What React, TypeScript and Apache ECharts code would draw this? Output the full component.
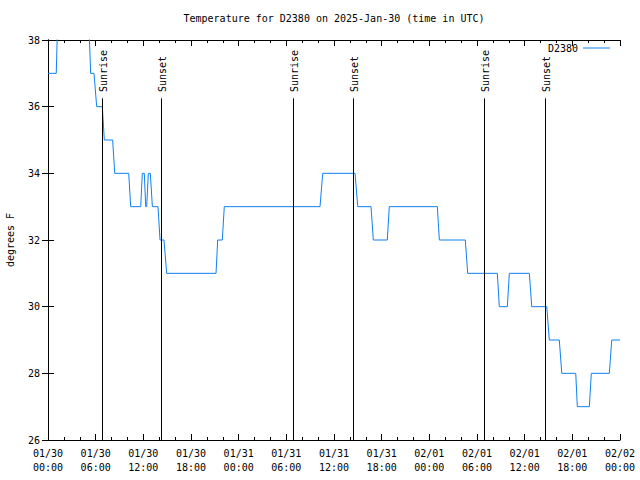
import { useEffect, useRef } from "react";
import * as echarts from "echarts";

// hours since 2025-01-30 00:00 UTC
const hours = [
  0, 1.04, 1.26, 5.07, 5.37, 5.79, 6.13, 6.84, 7.09, 8.14, 8.4, 10.16, 10.41,
  11.67, 11.87, 12.12, 12.3, 12.42, 12.63, 12.88, 13.14, 13.85, 14.1, 14.6,
  14.94, 21.15, 21.36, 21.94, 22.19, 34.24, 34.58, 38.65, 38.99, 40.66, 40.95,
  42.71, 42.96, 49.01, 49.26, 52.53, 52.83, 56.56, 56.81, 57.82, 58.07, 60.59,
  60.89, 62.78, 63.1, 64.36, 64.67, 66.43, 66.63, 68.14, 68.39, 70.66, 70.96, 72,
];
const temps = [
  37, 37, 39, 39, 37, 37, 36, 36, 35, 35, 34, 34, 33,
  33, 34, 34, 33, 33, 34, 34, 33, 33, 32, 32,
  31, 31, 32, 32, 33, 33, 34, 34, 33, 33, 32,
  32, 33, 33, 32, 32, 31, 31, 30, 30, 31, 31,
  30, 30, 29, 29, 28, 28, 27, 27, 28, 28, 29, 29,
];
const xTickLabels = [
  "01/30\n00:00", "01/30\n06:00", "01/30\n12:00", "01/30\n18:00",
  "01/31\n00:00", "01/31\n06:00", "01/31\n12:00", "01/31\n18:00",
  "02/01\n00:00", "02/01\n06:00", "02/01\n12:00", "02/01\n18:00",
  "02/02\n00:00",
];
const eventHours = [6.84, 14.26, 30.88, 38.43, 54.92, 62.6];
const eventNames = ["Sunrise", "Sunset", "Sunrise", "Sunset", "Sunrise", "Sunset"];
const seriesName = "D2380";
const titleText = "Temperature for D2380 on 2025-Jan-30 (time in UTC)";
const yName = "degrees F";

export default function App() {
  const ref = useRef<HTMLDivElement>(null);
  useEffect(() => {
    const chart = echarts.init(ref.current!, null, { renderer: "svg" });
    const font = "DejaVu Sans Mono";
    const txt = { fontFamily: font, fontSize: 10, color: "#000" };
    const lineStyle = { color: "#000", width: 1 };
    const xBase = {
      type: "value",
      min: 0,
      max: 72,
      interval: 6,
      splitLine: { show: false },
      axisLine: { show: true, lineStyle },
      axisTick: { show: true, inside: true, length: 6, lineStyle },
      minorTick: { show: true, splitNumber: 3, length: 3, lineStyle },
    };
    const yBase = {
      type: "value",
      min: 26,
      max: 38,
      interval: 2,
      splitLine: { show: false },
      axisLine: { show: true, lineStyle },
      axisTick: { show: true, inside: true, length: 6, lineStyle },
    };
    chart.setOption({
      animation: false,
      backgroundColor: "#fff",
      title: {
        text: titleText,
        left: 334,
        textAlign: "center",
        top: 13,
        padding: 0,
        textStyle: { ...txt, fontWeight: "normal" },
      },
      legend: {
        right: 30,
        top: 43,
        padding: 0,
        align: "right",
        icon: "rect",
        itemWidth: 27,
        itemHeight: 1,
        textStyle: txt,
        data: [seriesName],
      },
      grid: {
        left: 48,
        right: 20,
        top: 40,
        bottom: 40,
        containLabel: false,
        outerBoundsMode: "none",
      },
      xAxis: [
        {
          ...xBase,
          position: "bottom",
          axisLabel: {
            ...txt,
            margin: 6,
            lineHeight: 14,
            formatter: (v: number) => xTickLabels[Math.round(v / 6)] ?? "",
          },
        },
        { ...xBase, position: "top", axisLabel: { show: false } },
      ],
      yAxis: [
        {
          ...yBase,
          position: "left",
          name: yName,
          nameLocation: "middle",
          nameGap: 33,
          nameRotate: 90,
          nameTextStyle: txt,
          axisLabel: { ...txt, margin: 8 },
        },
        { ...yBase, position: "right", axisLabel: { show: false } },
      ],
      series: [
        {
          name: seriesName,
          type: "line",
          xAxisIndex: 0,
          yAxisIndex: 0,
          symbol: "none",
          clip: true,
          lineStyle: { color: "#0f80f2", width: 1 },
          itemStyle: { color: "#0f80f2" },
          data: hours.map((h, i) => [h, temps[i]]),
          markLine: {
            silent: true,
            symbol: ["none", "none"],
            lineStyle: { color: "#000", width: 1, type: "solid" },
            label: { show: false },
            emphasis: { disabled: true },
            data: eventHours.map((h) => [
              { coord: [h, 36.25] },
              { coord: [h, 26] },
            ]),
          },
        },
      ],
    });
    const labels = eventHours.map((h, i) => {
      const p = chart.convertToPixel({ xAxisIndex: 0, yAxisIndex: 0 }, [h, 30]) as number[];
      return {
        type: "text",
        x: p[0] + 1,
        y: 92,
        rotation: Math.PI / 2,
        z: 10,
        style: {
          text: eventNames[i],
          fill: "#000",
          font: `10px ${font}`,
          align: "left",
          verticalAlign: "middle",
        },
      };
    });
    chart.setOption({ graphic: labels });
    return () => chart.dispose();
  }, []);
  return (
    <div
      ref={ref}
      style={{ width: 640, height: 480, position: "absolute", left: 0, top: 0 }}
    />
  );
}
